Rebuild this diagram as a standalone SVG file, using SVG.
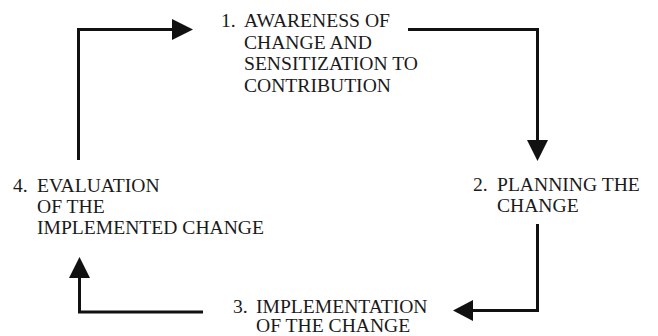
<svg xmlns="http://www.w3.org/2000/svg" width="658" height="336" viewBox="0 0 658 336">
<defs>
<style>
text{font-family:"Liberation Serif","Times New Roman",serif;font-size:19.6px;fill:#1a1a1a}
.c{fill:none;stroke:#111;stroke-width:3;stroke-linejoin:miter;stroke-linecap:butt}
.h{fill:#111;stroke:none}
</style>
</defs>
<rect width="658" height="336" fill="#fff"/>
<g id="node1">
<text x="221" y="27">1.</text>
<text x="244" y="27">AWARENESS OF</text>
<text x="244" y="48.5">CHANGE AND</text>
<text x="244" y="70">SENSITIZATION TO</text>
<text x="244" y="91.5">CONTRIBUTION</text>
</g>
<g id="node2">
<text x="473" y="191">2.</text>
<text x="497" y="191">PLANNING THE</text>
<text x="497" y="212">CHANGE</text>
</g>
<g id="node3">
<text x="233" y="313">3.</text>
<text x="256" y="313">IMPLEMENTATION</text>
<text x="256" y="332">OF THE CHANGE</text>
</g>
<g id="node4">
<text x="13" y="192">4.</text>
<text x="37" y="192">EVALUATION</text>
<text x="37" y="213">OF THE</text>
<text x="37" y="234">IMPLEMENTED CHANGE</text>
</g>
<g id="connectors">
<path class="c" d="M78.5 160 V29.5 H174"/>
<polygon class="h" points="172,19 193,29.5 172,40"/>
<path class="c" d="M408 29.5 H537.5 V142"/>
<polygon class="h" points="527,140 548,140 537.5,161"/>
<path class="c" d="M537.5 224 V310.5 H471"/>
<polygon class="h" points="473,300 473,321 453,310.5"/>
<path class="c" d="M203 312 H79.5 V276"/>
<polygon class="h" points="69,278 90,278 79.5,257"/>
</g>
</svg>
